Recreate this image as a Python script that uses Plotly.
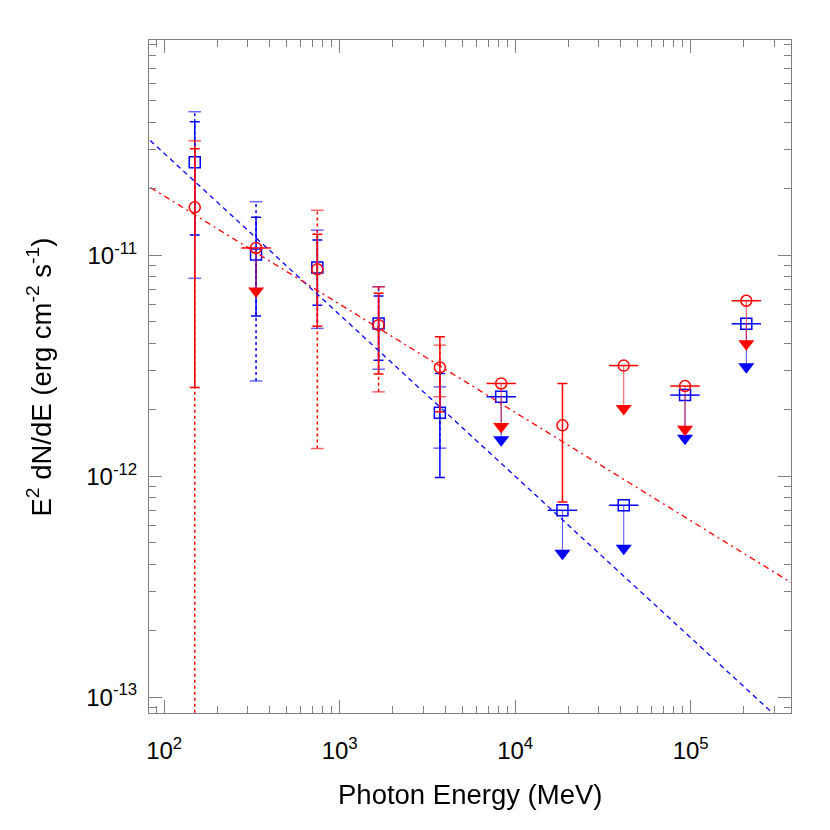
import plotly.graph_objects as go

# bin centres (MeV)
energy = [149.3, 333.7, 745.7, 1666, 3723, 8320, 18590, 41540, 92820, 207400]

# red (circles): flux points, stat bars (solid), sys bars (dotted), upper limits
red_flux = [1.65e-11, None, 8.64e-12, 4.83e-12, 3.11e-12, None, 1.70e-12, None, None, None]
red_hi = [3.04e-11, None, 1.245e-11, 6.73e-12, 4.28e-12, None, 2.63e-12, None, None, None]
red_lo = [2.52e-12, None, 4.78e-12, 2.90e-12, 1.96e-12, None, 7.65e-13, None, None, None]
red_sys_hi = [3.30e-11, None, 1.60e-11, 7.21e-12, 3.92e-12, None, None, None, None, None]
red_sys_lo = [1e-15, None, 1.335e-12, 2.41e-12, 2.29e-12, None, None, None, None, None]
red_ul = [None, 1.08e-11, None, None, None, 2.63e-12, None, 3.17e-12, 2.56e-12, 6.23e-12]

# blue (squares)
blue_flux = [2.64e-11, 1.01e-11, 8.82e-12, 4.92e-12, 1.94e-12, None, None, None, None, None]
blue_hi = [4.03e-11, 1.486e-11, 1.173e-11, 6.54e-12, 2.92e-12, None, None, None, None, None]
blue_lo = [1.236e-11, 5.31e-12, 5.95e-12, 3.35e-12, 9.87e-13, None, None, None, None, None]
blue_sys_hi = [4.47e-11, 1.75e-11, 1.30e-11, 7.21e-12, 2.54e-12, None, None, None, None, None]
blue_sys_lo = [7.87e-12, 2.70e-12, 4.67e-12, 3.05e-12, 1.34e-12, None, None, None, None, None]
blue_ul = [None, None, None, None, None, 2.29e-12, 7.01e-13, 7.39e-13, 2.33e-12, 4.90e-12]

# power-law fits: E^2 dN/dE at 1 GeV and slope
fit_e0 = 1000.0
red_fit_norm, red_fit_slope = 6.01e-12, -0.49
blue_fit_norm, blue_fit_slope = 5.38e-12, -0.731
fit_energy = [70, 5e5]

ARROW = 10 ** (-0.195)
RED = '#ff0000'
BLUE = '#0000ff'
FONT = 'Liberation Sans, Arial, Helvetica, sans-serif'


def segments(xs, lo, hi):
    sx, sy = [], []
    for x, a, b in zip(xs, lo, hi):
        if a is None or b is None:
            continue
        sx += [x, x, None]
        sy += [a, b, None]
    return sx, sy


def add_series(fig, color, symbol, flux, hi, lo, sys_hi, sys_lo, ul):
    # dotted (systematic) bars
    sx, sy = segments(energy, sys_lo, sys_hi)
    fig.add_trace(go.Scatter(x=sx, y=sy, mode='lines',
                             line=dict(color=color, width=1.5, dash='dot'),
                             hoverinfo='skip'))
    cx = [e for e, v in zip(energy, sys_hi) if v is not None]
    cx += [e for e, v in zip(energy, sys_lo) if v is not None]
    cy = [v for v in sys_hi if v is not None] + [v for v in sys_lo if v is not None]
    fig.add_trace(go.Scatter(x=cx, y=cy, mode='markers', opacity=0.6,
                             marker=dict(symbol='line-ew', size=9,
                                         line=dict(color=color, width=1.5)),
                             hoverinfo='skip'))
    # solid (stat) bars
    plus = [h - f if f is not None else None for f, h in zip(flux, hi)]
    minus = [f - l if f is not None else None for f, l in zip(flux, lo)]
    fig.add_trace(go.Scatter(
        x=energy, y=flux, mode='markers',
        marker=dict(symbol=symbol, size=11, color=color, line=dict(color=color, width=1.5)),
        error_y=dict(type='data', symmetric=False, array=plus, arrayminus=minus,
                     color=color, thickness=1.5, width=5)))
    # upper limits
    ux = [e for e, v in zip(energy, ul) if v is not None]
    uy = [v for v in ul if v is not None]
    ty = [v * ARROW for v in uy]
    sx, sy = segments(ux, ty, uy)
    fig.add_trace(go.Scatter(x=sx, y=sy, mode='lines',
                             line=dict(color=color, width=1), opacity=0.7,
                             hoverinfo='skip'))
    fig.add_trace(go.Scatter(x=ux, y=uy, mode='markers',
                             marker=dict(symbol='line-ew', size=21,
                                         line=dict(color=color, width=1.5))))
    fig.add_trace(go.Scatter(x=ux, y=uy, mode='markers',
                             marker=dict(symbol=symbol, size=11, color=color,
                                         line=dict(color=color, width=1.5))))
    fig.add_trace(go.Scatter(x=ux, y=ty, mode='markers',
                             marker=dict(symbol='triangle-down', size=14, color=color,
                                         line=dict(width=0))))


fig = go.Figure()

add_series(fig, BLUE, 'square-open', blue_flux, blue_hi, blue_lo,
           blue_sys_hi, blue_sys_lo, blue_ul)
add_series(fig, RED, 'circle-open', red_flux, red_hi, red_lo,
           red_sys_hi, red_sys_lo, red_ul)

fig.add_trace(go.Scatter(
    x=fit_energy, y=[blue_fit_norm * (e / fit_e0) ** blue_fit_slope for e in fit_energy],
    mode='lines', line=dict(color=BLUE, width=1.3, dash='5px,4px')))
fig.add_trace(go.Scatter(
    x=fit_energy, y=[red_fit_norm * (e / fit_e0) ** red_fit_slope for e in fit_energy],
    mode='lines', line=dict(color=RED, width=1.3, dash='6px,4px,2px,4px')))

minor_x = [m * 10 ** d for d in range(1, 6) for m in range(2, 10)]
minor_y = [m * 10.0 ** d for d in range(-14, -10) for m in range(2, 10)]

axis_common = dict(
    type='log', showgrid=False, zeroline=False,
    showline=True, linecolor='#808080', linewidth=1, mirror='allticks',
    ticks='inside', tickcolor='#808080', tickwidth=1,
    tickfont=dict(family=FONT, size=24, color='black'),
)

fig.update_layout(
    width=830, height=830,
    margin=dict(l=141, r=47, t=32, b=125),
    plot_bgcolor='white', paper_bgcolor='white',
    showlegend=False,
    xaxis=dict(axis_common, range=[1.9134, 5.5715], ticklen=13,
               tickvals=[1e2, 1e3, 1e4, 1e5],
               ticktext=['10<sup>2</sup>', '10<sup>3</sup>', '10<sup>4</sup>', '10<sup>5</sup>'],
               ticklabelstandoff=16,
               minor=dict(tickvals=minor_x, ticks='inside', ticklen=7,
                          tickcolor='#808080', showgrid=False)),
    yaxis=dict(axis_common, range=[-13.072, -10.025], ticklen=13,
               tickvals=[1e-13, 1e-12, 1e-11],
               ticktext=['10<sup>-13</sup>', '10<sup>-12</sup>', '10<sup>-11</sup>'],
               ticklabelstandoff=6,
               minor=dict(tickvals=minor_y, ticks='inside', ticklen=7,
                          tickcolor='#808080', showgrid=False)),
    annotations=[
        dict(text='Photon Energy (MeV)', xref='paper', yref='paper',
             x=0.5, y=-0.1218, xanchor='center', yanchor='middle', showarrow=False,
             font=dict(family=FONT, size=27.5, color='black')),
        dict(text='E<sup>2</sup> dN/dE (erg cm<sup>-2</sup> s<sup>-1</sup>)',
             xref='paper', yref='paper', x=-0.1698, y=0.5, textangle=-90,
             xanchor='center', yanchor='middle', showarrow=False,
             font=dict(family=FONT, size=27.5, color='black')),
    ],
)

fig.write_html("out.html")
